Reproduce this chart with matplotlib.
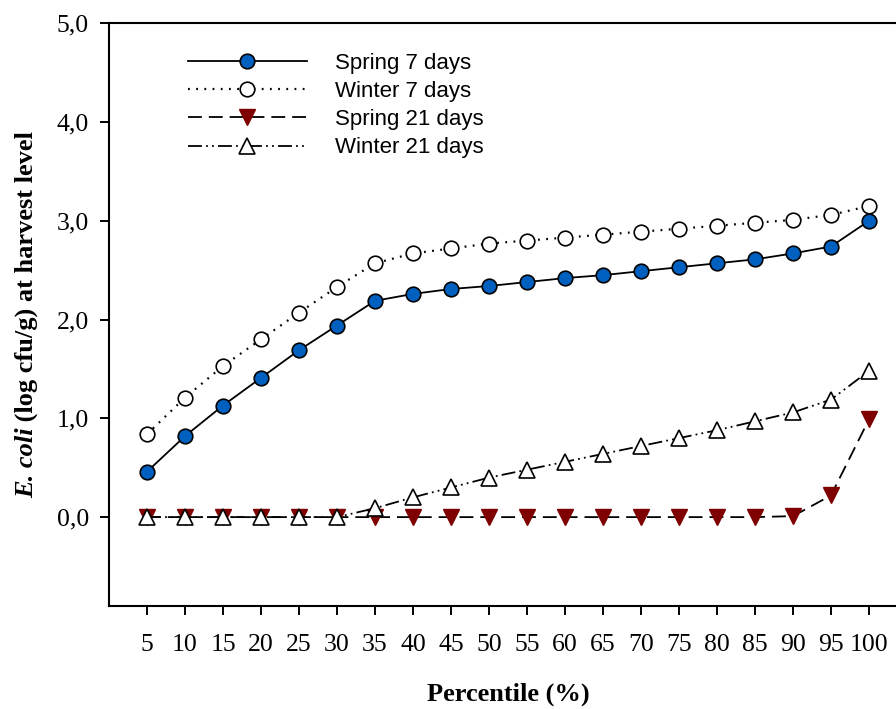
import matplotlib
matplotlib.use('Agg')
import matplotlib.pyplot as plt

percentiles = [5, 10, 15, 20, 25, 30, 35, 40, 45, 50, 55, 60, 65, 70, 75, 80, 85, 90, 95, 100]
spring_7 = [0.46, 0.82, 1.13, 1.41, 1.69, 1.94, 2.19, 2.26, 2.31, 2.34, 2.38, 2.42, 2.45, 2.49, 2.53, 2.57, 2.61, 2.67, 2.74, 3.00]
winter_7 = [0.84, 1.21, 1.53, 1.80, 2.07, 2.33, 2.57, 2.67, 2.72, 2.77, 2.80, 2.83, 2.86, 2.89, 2.92, 2.95, 2.98, 3.01, 3.06, 3.15]
spring_21 = [0, 0, 0, 0, 0, 0, 0, 0, 0, 0, 0, 0, 0, 0, 0, 0, 0, 0.01, 0.22, 0.99]
winter_21 = [0, 0, 0, 0, 0, 0, 0.09, 0.20, 0.30, 0.40, 0.48, 0.56, 0.64, 0.72, 0.80, 0.88, 0.97, 1.06, 1.19, 1.48]
series_labels = ['Spring 7 days', 'Winter 7 days', 'Spring 21 days', 'Winter 21 days']
y_ticks = [0, 1, 2, 3, 4, 5]
y_tick_labels = ['0,0', '1,0', '2,0', '3,0', '4,0', '5,0']
x_label = 'Percentile (%)'
y_label_italic = 'E. coli'
y_label_rest = ' (log cfu/g) at harvest level'

plt.rcParams['lines.scale_dashes'] = False
SERIF = 'Liberation Serif'
SANS = 'Liberation Sans'

W, H = 896, 709
fig = plt.figure(figsize=(W / 100, H / 100), dpi=100)
ax = fig.add_axes([109 / W, 103 / H, 798 / W, 582.7 / H])

lw = 1.3
ax.plot(percentiles, spring_7, color='black', lw=lw, linestyle='-',
        marker='o', ms=10.5, mfc='#0060C0', mec='black', mew=1.2, label=series_labels[0])
ax.plot(percentiles, winter_7, color='black', lw=1.6, linestyle=(0, (1.3, 4.6)),
        marker='o', ms=10.5, mfc='white', mec='black', mew=1.2, label=series_labels[1])
ax.plot(percentiles, spring_21, color='black', lw=lw, linestyle=(0, (10, 5)),
        marker='v', ms=11, mfc='#7F0000', mec='#7F0000', mew=1.0, label=series_labels[2])
ax.plot(percentiles, winter_21, color='black', lw=lw, linestyle=(0, (10, 3, 1.3, 3, 1.3, 3)),
        marker='^', ms=11, mfc='white', mec='black', mew=1.2, label=series_labels[3])

ax.set_xlim(0, 105)
ax.set_ylim(-0.9, 5.0)
ax.set_xticks(percentiles)
ax.set_xticklabels([str(p) for p in percentiles], fontfamily=SERIF, fontsize=18.5)
ax.set_yticks(y_ticks)
ax.set_yticklabels(y_tick_labels, fontfamily=SERIF, fontsize=18.5)
ax.tick_params(axis='x', direction='out', length=6.5, width=1.4, pad=14)
ax.tick_params(axis='y', direction='out', length=6.5, width=1.4, pad=8)
for s in ax.spines.values():
    s.set_linewidth(1.5)

ax.set_xlabel(x_label, fontfamily=SERIF, fontsize=19, fontweight='bold')
ax.xaxis.set_label_coords(0.5, -0.131)

leg = ax.legend(loc='upper left', bbox_to_anchor=(188 / W, 1 - 53 / H), bbox_transform=fig.transFigure,
                frameon=False, borderpad=0, borderaxespad=0, handlelength=5.35, handletextpad=1.25,
                labelspacing=0.32, numpoints=1, prop={'family': SANS, 'size': 16})

# y label in two styles
fig.canvas.draw()
r = fig.canvas.get_renderer()
bx = 33 / W
t1 = fig.text(bx, 0, y_label_italic, rotation=90, rotation_mode='anchor', ha='left', va='baseline',
              fontfamily=SERIF, fontsize=19, fontweight='bold', fontstyle='italic')
t2 = fig.text(bx, 0, y_label_rest, rotation=90, rotation_mode='anchor', ha='left', va='baseline',
              fontfamily=SERIF, fontsize=19, fontweight='bold')
l1 = t1.get_window_extent(r).height
l2 = t2.get_window_extent(r).height
center_px = (103 + 685.7) / 2
start = center_px - (l1 + l2) / 2
t1.set_y(start / H)
t2.set_y((start + l1) / H)

fig.savefig('out.png', dpi=100)
